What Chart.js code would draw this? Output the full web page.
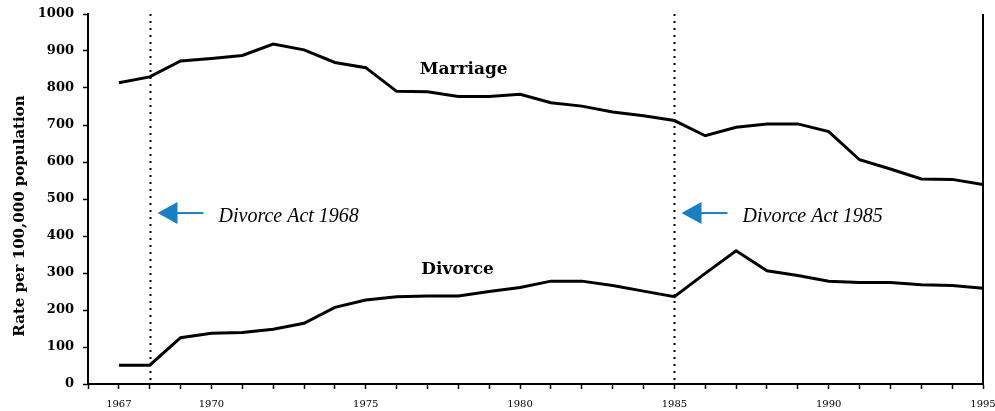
<!DOCTYPE html>
<html>
<head>
<meta charset="utf-8">
<script src="https://cdn.jsdelivr.net/npm/chart.js@4.4.1/dist/chart.umd.min.js"></script>
<style>
    body { margin: 0; background: #fff; }
    #chart { display: block; }
</style>
</head>
<body>
<canvas id="chart" width="995" height="411"></canvas>
<script>
// years on the x axis
var years = [1967, 1968, 1969, 1970, 1971, 1972, 1973, 1974, 1975, 1976,
             1977, 1978, 1979, 1980, 1981, 1982, 1983, 1984, 1985, 1986,
             1987, 1988, 1989, 1990, 1991, 1992, 1993, 1994, 1995];

// rate per 100,000 population
var marriage = [814, 830, 873, 880, 888, 919, 903, 869, 855, 791,
                790, 777, 777, 783, 760, 751, 735, 725, 712, 671,
                694, 703, 703, 682, 606, 581, 554, 553, 539];
var divorce = [51, 51, 125, 137, 139, 148, 164, 207, 227, 236,
               238, 238, 250, 261, 278, 278, 266, 251, 236, 299,
               360, 306, 293, 278, 274, 274, 268, 266, 259];

var xLabelYears = [1967, 1970, 1975, 1980, 1985, 1990, 1995];

// divorce acts
var actYears = [1968, 1985];
var actLabels = ['Divorce Act 1968', 'Divorce Act 1985'];
var actArrowValue = 462;

var seriesNames = ['Marriage', 'Divorce'];
var seriesLabelPos = [[1976.75, 849], [1976.8, 308]];

var yTitle = 'Rate per 100,000 population';

function toPoints(values) {
    return values.map((v, i) => ({ x: years[i], y: v }));
}

var extras = {
    id: 'extras',
    afterDatasetsDraw: function(chart) {
        var ctx = chart.ctx;
        var xs = chart.scales.x, ys = chart.scales.y;
        var area = chart.chartArea;
        ctx.save();

        // right border
        ctx.strokeStyle = '#000';
        ctx.lineWidth = 2;
        ctx.beginPath();
        ctx.moveTo(area.right, area.top);
        ctx.lineTo(area.right, area.bottom);
        ctx.stroke();

        // dotted lines, arrows and act labels
        actYears.forEach(function(yr, i) {
            var px = Math.round(xs.getPixelForValue(yr)) + 0.5;
            ctx.strokeStyle = '#000';
            ctx.lineWidth = 2;
            ctx.setLineDash([2, 5]);
            ctx.beginPath();
            ctx.moveTo(px, area.top);
            ctx.lineTo(px, area.bottom);
            ctx.stroke();
            ctx.setLineDash([]);

            var ay = ys.getPixelForValue(actArrowValue);
            ctx.fillStyle = '#1a7fc1';
            ctx.strokeStyle = '#1a7fc1';
            ctx.beginPath();
            ctx.moveTo(px + 7, ay);
            ctx.lineTo(px + 27, ay - 11);
            ctx.lineTo(px + 27, ay + 11);
            ctx.closePath();
            ctx.fill();
            ctx.lineWidth = 2;
            ctx.beginPath();
            ctx.moveTo(px + 26, ay);
            ctx.lineTo(px + 53, ay);
            ctx.stroke();

            ctx.fillStyle = '#000';
            ctx.font = 'italic 20px "Liberation Serif"';
            ctx.textAlign = 'left';
            ctx.textBaseline = 'middle';
            ctx.fillText(actLabels[i], px + 68, ay + 4);
        });

        // series labels
        ctx.fillStyle = '#000';
        ctx.font = 'bold 17px "DejaVu Serif"';
        ctx.textAlign = 'left';
        ctx.textBaseline = 'middle';
        seriesNames.forEach(function(name, i) {
            ctx.fillText(name, xs.getPixelForValue(seriesLabelPos[i][0]), ys.getPixelForValue(seriesLabelPos[i][1]));
        });

        // y title
        ctx.translate(20, 216);
        ctx.rotate(-Math.PI / 2);
        ctx.font = 'bold 15px "DejaVu Serif"';
        ctx.textAlign = 'center';
        ctx.fillText(yTitle, 0, 0);
        ctx.restore();
    }
};

var ctx = document.getElementById('chart').getContext('2d');
var chart = new Chart(ctx, {
    type: 'line',
    data: {
        datasets: [{
            label: seriesNames[0],
            data: toPoints(marriage),
            borderColor: '#000',
            borderWidth: 3,
            pointRadius: 0,
            tension: 0,
        }, {
            label: seriesNames[1],
            data: toPoints(divorce),
            borderColor: '#000',
            borderWidth: 3,
            pointRadius: 0,
            tension: 0,
        }]
    },
    options: {
        responsive: false,
        animation: false,
        devicePixelRatio: 1,
        layout: {
            padding: { top: 14, right: 12, left: 0, bottom: 0 }
        },
        scales: {
            x: {
                type: 'linear',
                min: 1966,
                max: 1995,
                afterFit: function(scale) {
                    scale.height = 27;
                    scale.paddingLeft = 0;
                    scale.paddingRight = 0;
                },
                grid: {
                    display: true,
                    drawOnChartArea: false,
                    drawTicks: true,
                    tickLength: 5,
                    tickColor: '#000',
                    tickWidth: 1.5,
                },
                border: { display: true, color: '#000', width: 2 },
                ticks: {
                    stepSize: 1,
                    autoSkip: false,
                    maxRotation: 0,
                    padding: 9,
                    color: '#000',
                    font: { family: 'DejaVu Serif', size: 10 },
                    callback: function(value) {
                        return xLabelYears.indexOf(value) >= 0 ? String(value) : '';
                    }
                }
            },
            y: {
                min: 0,
                max: 1000,
                afterFit: function(scale) {
                    scale.width = 88;
                    scale.paddingTop = 0;
                    scale.paddingBottom = 0;
                },
                grid: {
                    display: true,
                    drawOnChartArea: false,
                    drawTicks: true,
                    tickLength: 5,
                    tickColor: '#000',
                    tickWidth: 1.5,
                },
                border: { display: true, color: '#000', width: 2 },
                ticks: {
                    stepSize: 100,
                    padding: 9,
                    color: '#000',
                    font: { family: 'DejaVu Serif', size: 13, weight: 'bold' },
                    callback: function(value) { return String(value); }
                }
            }
        },
        plugins: {
            legend: { display: false },
            tooltip: { enabled: false }
        }
    },
    plugins: [extras]
});
</script>
</body>
</html>
